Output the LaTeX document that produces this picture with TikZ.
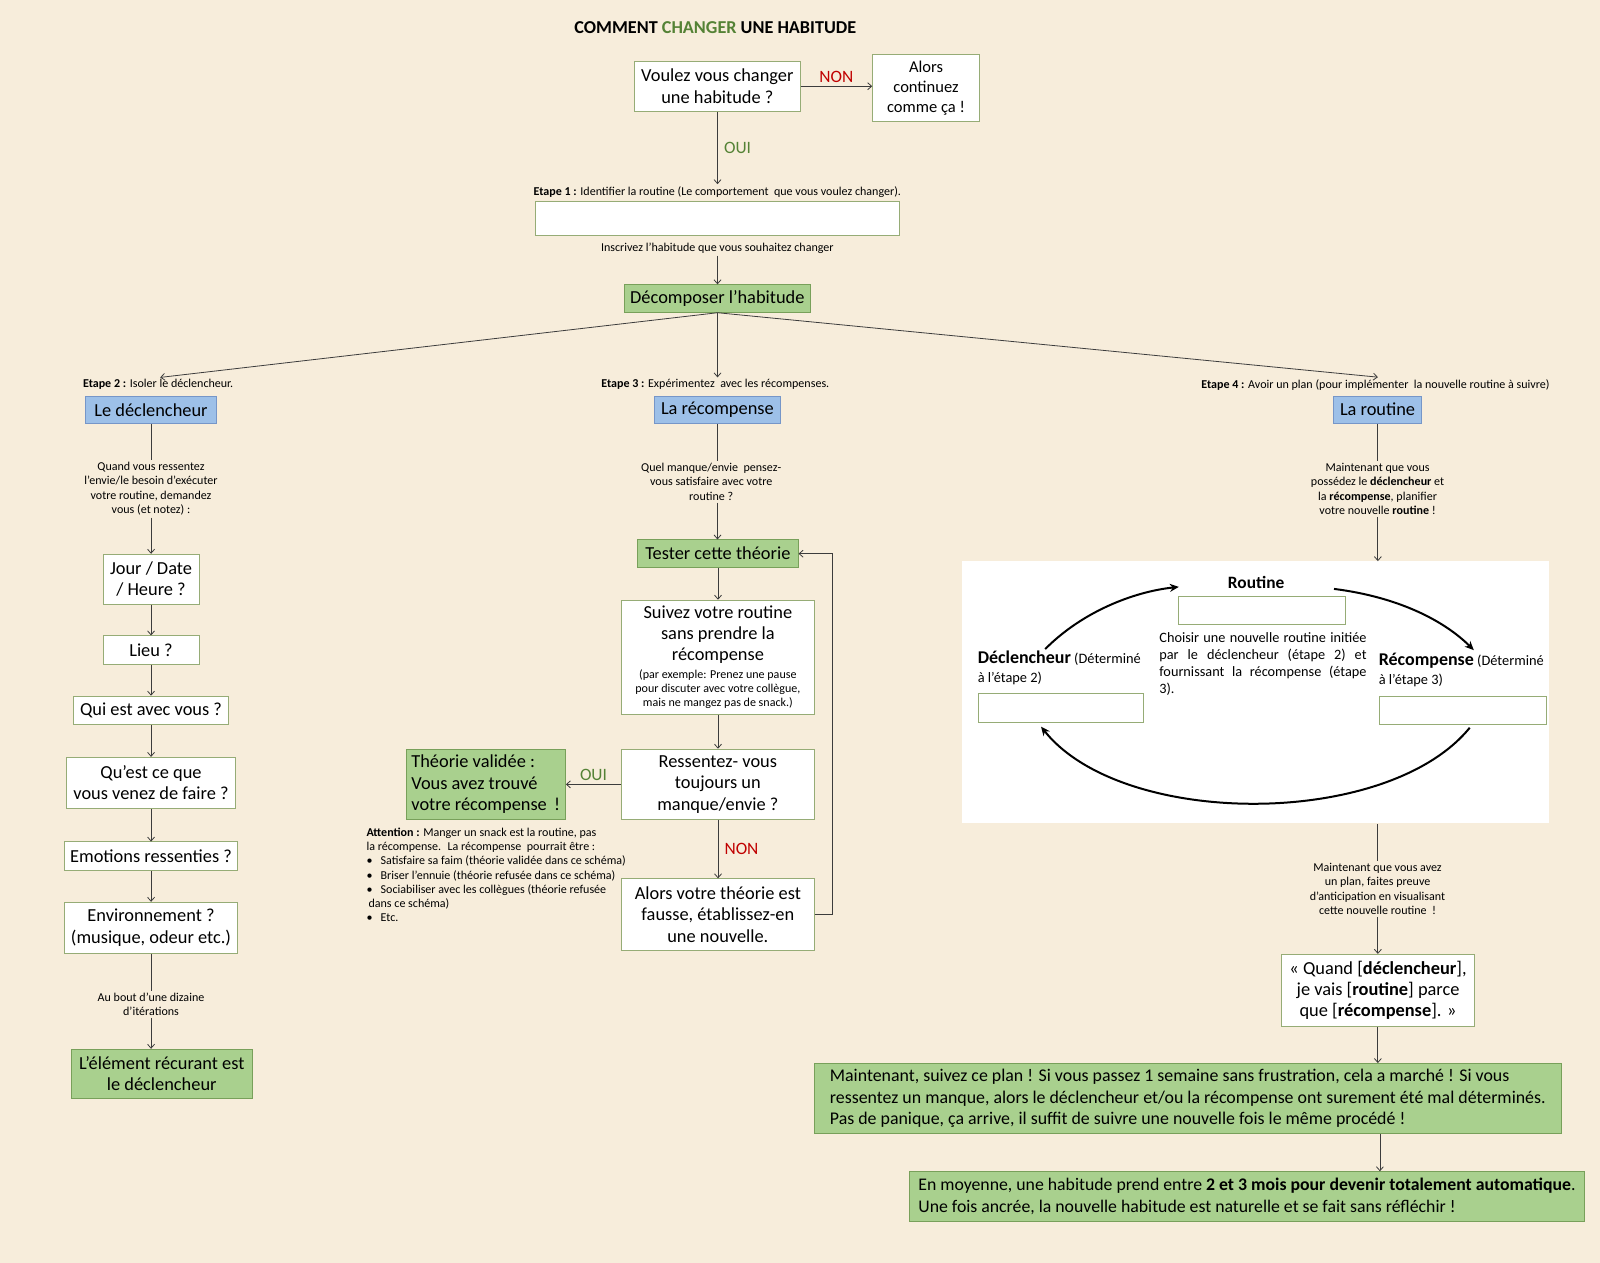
\documentclass[tikz,border=0pt]{standalone}
\usepackage{fontspec}
\setmainfont{Carlito}
\usetikzlibrary{arrows.meta}
\definecolor{bg}{RGB}{247,237,219}
\definecolor{wborder}{RGB}{150,172,118}
\definecolor{gfill}{RGB}{169,208,142}
\definecolor{gborder}{RGB}{120,160,90}
\definecolor{bfill}{RGB}{157,192,232}
\definecolor{bborder}{RGB}{118,150,200}
\definecolor{lncol}{RGB}{60,60,60}
\definecolor{ouigreen}{RGB}{84,130,53}
\definecolor{nonred}{RGB}{192,0,0}
\newcommand{\smallfnt}{\fontsize{11.8}{14}\selectfont}
\tikzset{
  base/.style={inner sep=2pt, text=black},
  wbox/.style={base, draw=wborder, fill=white, line width=0.8pt, align=center, font=\fontsize{18}{21}\selectfont},
  gbox/.style={base, draw=gborder, fill=gfill, line width=0.8pt, align=center, font=\fontsize{18}{21}\selectfont},
  bbox/.style={base, draw=bborder, fill=bfill, line width=0.8pt, align=center, font=\fontsize{18}{21}\selectfont},
  ebox/.style={base, draw=wborder, fill=white, line width=0.8pt},
  small/.style={base, align=center, font=\smallfnt},
  lbl/.style={base, font=\fontsize{17}{19}\selectfont},
  conn/.style={draw=lncol, line width=0.8pt},
  arr/.style={conn, -{Straight Barb[length=4pt,width=7pt]}},
  thick arr/.style={draw=black, line width=2pt, -{Stealth[length=9pt,width=8pt]}},
}
\begin{document}
\begin{tikzpicture}[x=1pt,y=-1pt,scale=1.0204,every node/.append style={transform shape}]
\fill[bg] (0,0) rectangle (1568,1237.7);

% title
\node[base, font=\bfseries\fontsize{17.8}{20}\selectfont] (title) at (701,27) {COMMENT \textcolor{ouigreen}{CHANGER} UNE HABITUDE};

% top
\node[wbox, minimum width=162, minimum height=49] (q1) at (703,84.5) {Voulez vous changer\\une habitude ?};
\node[wbox, minimum width=105, minimum height=66, font=\fontsize{16.2}{19.5}\selectfont] (alors) at (907.5,86) {Alors\\continuez\\comme ça !};
\draw[arr] (q1.east) -- (q1.east -| alors.west) node[midway, above=1pt, lbl, text=nonred] (non1) {NON};

\node[small] (e1) at (703,188) {\textbf{Etape 1 :} Identifier la routine (Le comportement \ que vous voulez changer).};
\draw[arr] (q1.south) -- (e1.north) node[midway, right=4pt, lbl, text=ouigreen] (oui1) {OUI};
\node[ebox, minimum width=356, minimum height=34] (in1) at (703,214) {};
\node[small] (insc) at (703,243) {Inscrivez l’habitude que vous souhaitez changer};
\node[gbox, minimum width=182, minimum height=27] (dec) at (703,292.5) {Décomposer l’habitude};
\draw[arr] (insc.south) -- (dec.north);

% step labels
\node[small] (e2) at (155,377) {\textbf{Etape 2 :} Isoler le déclencheur.};
\node[small] (e3) at (701,377) {\textbf{Etape 3 :} Expérimentez \ avec les récompenses.};
\node[small] (e4) at (1348,377) {\textbf{Etape 4 :} Avoir un plan (pour implémenter \ la nouvelle routine à suivre)};
\draw[arr] (dec.south) -- ([xshift=2pt]e2.north);
\draw[arr] (dec.south) -- ([xshift=2pt]e3.north);
\draw[arr] (dec.south) -- ([xshift=2pt]e4.north);

\node[bbox, minimum width=128, minimum height=27] (decl) at (148,401.5) {Le déclencheur};
\node[bbox, minimum width=124, minimum height=27] (recomp) at (703,401.5) {La récompense};
\node[bbox, minimum width=86, minimum height=27] (rout) at (1350,401.5) {La routine};

% left column
\node[small] (t2) at (148,479) {Quand vous ressentez\\l’envie/le besoin d’exécuter\\votre routine, demandez\\vous (et notez) :};
\draw[conn] (decl.south) -- (t2.north);
\node[wbox, minimum width=94, minimum height=49] (jour) at (148,567.5) {Jour / Date\\/ Heure ?};
\draw[arr] (t2.south) -- (jour.north);
\node[wbox, minimum width=94, minimum height=28] (lieu) at (148,637) {Lieu ?};
\draw[arr] (jour.south) -- (lieu.north);
\node[wbox, minimum width=152, minimum height=28] (qui) at (148,696) {Qui est avec vous ?};
\draw[arr] (lieu.south) -- (qui.north);
\node[wbox, minimum width=166, minimum height=50] (quest) at (148,767) {Qu’est ce que\\vous venez de faire ?};
\draw[arr] (qui.south) -- (quest.north);
\node[wbox, minimum width=170, minimum height=28] (emo) at (148,839) {Emotions ressenties ?};
\draw[arr] (quest.south) -- (emo.north);
\node[wbox, minimum width=170, minimum height=50] (env) at (148,909) {Environnement ?\\(musique, odeur etc.)};
\draw[arr] (emo.south) -- (env.north);
\node[small] (iter) at (148,984) {Au bout d’une dizaine\\d’itérations};
\draw[conn] (env.south) -- (iter.north);
\node[gbox, minimum width=177, minimum height=48] (elem) at (158.5,1052) {L’élément récurant est\\le déclencheur};
\draw[arr] (iter.south) -- (iter.south |- elem.north);

% middle column
\node[small] (t3) at (697,472) {Quel manque/envie \ pensez-\\vous satisfaire avec votre\\routine ?};
\draw[conn] (recomp.south) -- (recomp.south |- t3.north);
\node[gbox, minimum width=157, minimum height=27] (test) at (703.5,542.5) {Tester cette théorie};
\draw[arr] (recomp.south |- t3.south) -- (recomp.south |- test.north);
\node[wbox, minimum width=189, minimum height=112] (suiv) at (703.5,644) {Suivez votre routine\\sans prendre la\\récompense\\[-4pt]{\smallfnt (par exemple: Prenez une pause}\\[-7pt]{\smallfnt pour discuter avec votre collègue,}\\[-7pt]{\smallfnt mais ne mangez pas de snack.)}};
\draw[arr] (test.south) -- (suiv.north);
\node[wbox, minimum width=189, minimum height=69] (ress) at (703.5,768.5) {Ressentez- vous\\toujours un\\manque/envie ?};
\draw[arr] (suiv.south) -- (ress.north);
\node[gbox, minimum width=156, minimum height=69, align=left] (valid) at (476,768.5) {Théorie validée :\\Vous avez trouvé\\votre récompense \,!};
\draw[arr] (ress.west) -- (valid.east) node[midway, above=1pt, lbl, text=ouigreen] (oui2) {OUI};
\node[wbox, minimum width=189, minimum height=70] (faux) at (703.5,896) {Alors votre théorie est\\fausse, établissez-en\\une nouvelle.};
\draw[arr] (ress.south) -- (faux.north) node[midway, right=4pt, lbl, text=nonred] (non2) {NON};
\draw[arr] (faux.east) -- ++(17,0) |- (test.east);

\node[small, align=left, anchor=north west, font=\fontsize{11.8}{14}\selectfont] (att) at (357,809) {\textbf{Attention :} Manger un snack est la routine, pas\\la récompense. \ La récompense \ pourrait être :\\•\hspace{8pt}Satisfaire sa faim (théorie validée dans ce schéma)\\•\hspace{8pt}Briser l’ennuie (théorie refusée dans ce schéma)\\•\hspace{8pt}Sociabiliser avec les collègues (théorie refusée\\\hspace{2pt}dans ce schéma)\\•\hspace{8pt}Etc.};

% right column
\node[small] (t4) at (1350,479) {Maintenant que vous\\possédez le \textbf{déclencheur} et\\la \textbf{récompense}, planifier\\votre nouvelle \textbf{routine} !};
\draw[conn] (rout.south) -- (t4.north);
\node[base, fill=white, minimum width=575, minimum height=257] (panel) at (1230.5,678.5) {};
\draw[arr] (t4.south) -- (panel.north -| t4.south);

\node[base, font=\bfseries\fontsize{17}{19}\selectfont] (rlab) at (1231,571) {Routine};
\node[ebox, minimum width=163, minimum height=28] (rbox) at (1236.5,598) {};
\node[base, anchor=north west, align=left, font=\fontsize{14}{16.5}\selectfont] (rtxt) at (1134,618) {\makebox[203pt][s]{Choisir une nouvelle routine initiée}\\\makebox[203pt][s]{par le déclencheur (étape 2) et}\\\makebox[203pt][s]{fournissant la récompense (étape}\\3).};
\node[base, anchor=north west, align=left, font=\fontsize{14.1}{18}\selectfont] (dlab) at (956,636) {\textbf{\fontsize{17.6}{18}\selectfont Déclencheur} (Déterminé\\ à l’étape 2)};
\node[ebox, minimum width=162, minimum height=28] (dbox) at (1040,694) {};
\node[base, anchor=north west, align=left, font=\fontsize{14.1}{18}\selectfont] (klab) at (1349,638) {\textbf{\fontsize{17.6}{18}\selectfont Récompense} (Déterminé\\ à l’étape 3)};
\node[ebox, minimum width=163, minimum height=28] (kbox) at (1433.5,696) {};
\coordinate (c1s) at (1024,636);
\coordinate (c1e) at (1155,575);
\coordinate (c2s) at (1307,577);
\coordinate (c2e) at (1444,637);
\coordinate (c3s) at (1440,713);
\coordinate (c3e) at (1020,712);
\draw[thick arr] (c1s) .. controls (1060,600) and (1110,580) .. (c1e);
\draw[thick arr] (c2s) .. controls (1370,585) and (1415,608) .. (c2e);
\draw[thick arr] (c3s) .. controls (1360,812) and (1100,812) .. (c3e);

\node[small] (t5) at (1350,871) {Maintenant que vous avez\\un plan, faites preuve\\d’anticipation en visualisant\\cette nouvelle routine \ !};
\draw[conn] (panel.south -| t5.north) -- (t5.north);
\node[wbox, minimum width=189, minimum height=71] (quand) at (1350.5,970.5) {« Quand [\textbf{déclencheur}],\\je vais [\textbf{routine}] parce\\que [\textbf{récompense}]. »};
\draw[arr] (t5.south) -- (t5.south |- quand.north);
\node[gbox, minimum width=732, minimum height=69, align=left, font=\fontsize{17.5}{21}\selectfont] (main) at (1164,1076.5) {Maintenant, suivez ce plan ! Si vous passez 1 semaine sans frustration, cela a marché ! Si vous\\ressentez un manque, alors le déclencheur et/ou la récompense ont surement été mal déterminés.\\Pas de panique, ça arrive, il suffit de suivre une nouvelle fois le même procédé !};
\draw[arr] (quand.south -| t5.south) -- (t5.south |- main.north);
\node[gbox, minimum width=662, minimum height=49, align=left, font=\fontsize{17.4}{21}\selectfont] (moy) at (1222,1172.5) {En moyenne, une habitude prend entre \textbf{2 et 3 mois pour devenir totalement automatique}.\\Une fois ancrée, la nouvelle habitude est naturelle et se fait sans réfléchir !};
\draw[arr] ([xshift=2pt]main.south -| t5.south) -- ([xshift=2pt]t5.south |- moy.north);

\pgfresetboundingbox
\useasboundingbox (0,0) rectangle (1568,1237.7);
\end{tikzpicture}
\end{document}
